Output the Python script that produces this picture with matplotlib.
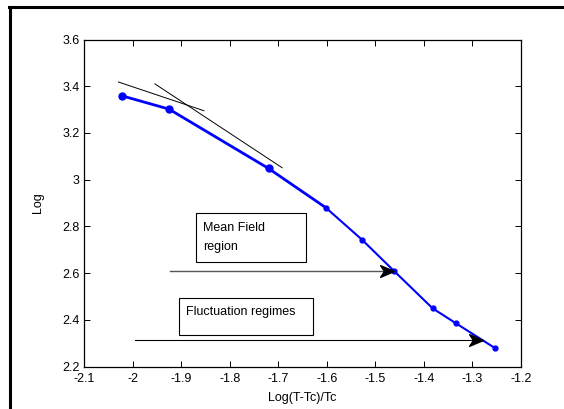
import matplotlib
matplotlib.use("Agg")
import matplotlib.pyplot as plt
from matplotlib.path import Path
from matplotlib.patches import Rectangle
from matplotlib.lines import Line2D
import numpy as np

plt.rcParams['font.family'] = ['Liberation Sans', 'DejaVu Sans']

# data
x_vals = [-2.022, -1.925, -1.720, -1.602, -1.527, -1.4615, -1.382, -1.334, -1.253]
y_vals = [3.359, 3.302, 3.048, 2.880, 2.742, 2.609, 2.449, 2.385, 2.278]
tan1_x = [-2.029, -1.853]
tan1_y = [3.418, 3.295]
tan2_x = [-1.954, -1.692]
tan2_y = [3.410, 3.051]
arrow1_x = [-1.923, -1.4615]
arrow1_y = [2.609, 2.609]
arrow2_x = [-1.994, -1.2775]
arrow2_y = [2.312, 2.312]
x_ticks = [-2.1, -2.0, -1.9, -1.8, -1.7, -1.6, -1.5, -1.4, -1.3, -1.2]
x_tick_labels = ['-2.1', '-2', '-1.9', '-1.8', '-1.7', '-1.6', '-1.5', '-1.4', '-1.3', '-1.2']
y_ticks = [2.2, 2.4, 2.6, 2.8, 3.0, 3.2, 3.4, 3.6]
y_tick_labels = ['2.2', '2.4', '2.6', '2.8', '3', '3.2', '3.4', '3.6']

W, H = 564, 409
fig = plt.figure(figsize=(W / 100, H / 100), dpi=100)

def fx(px):
    return px / W

def fy(py):
    return 1 - py / H

ax = fig.add_axes([fx(84), fy(366.5), (521 - 84) / W, (366.5 - 39.5) / H])
ax.set_xlim(-2.1, -1.2)
ax.set_ylim(2.2, 3.6)

# main curve: thick first part, thinner second part
ax.plot(x_vals[:4], y_vals[:4], color='#0000ff', lw=2.0, marker='o', ms=5,
        markevery=[0, 1, 2], zorder=3)
ax.plot(x_vals[3:], y_vals[3:], color='#0000ff', lw=1.5, marker='o', ms=3.5, zorder=3)

# tangent lines
ax.plot(tan1_x, tan1_y, color='black', lw=0.7)
ax.plot(tan2_x, tan2_y, color='black', lw=0.7)

# arrows (notched MATLAB-style heads)
head = Path([(0, 0), (-1, 0.42), (-0.72, 0), (-1, -0.42), (0, 0)],
            [Path.MOVETO, Path.LINETO, Path.LINETO, Path.LINETO, Path.CLOSEPOLY])
ax.plot(arrow1_x, arrow1_y, color='#555555', lw=1.0, zorder=4)
ax.plot([arrow1_x[1]], [arrow1_y[1]], marker=head, ms=20, color='black', mec='black', zorder=5)
ax.plot(arrow2_x, arrow2_y, color='black', lw=0.8, zorder=4)
ax.plot([arrow2_x[1]], [arrow2_y[1]], marker=head, ms=20, color='black', mec='black', zorder=5)

ax.set_xticks(x_ticks)
ax.set_xticklabels(x_tick_labels)
ax.set_yticks(y_ticks)
ax.set_yticklabels(y_tick_labels)
ax.tick_params(direction='in', length=4, width=0.7, top=True, right=True,
               labelsize=9)
ax.tick_params(axis='x', pad=5)
ax.tick_params(axis='y', pad=3)
for s in ax.spines.values():
    s.set_linewidth(0.9)
ax.set_xlabel('Log(T-Tc)/Tc', fontsize=9, labelpad=5)
ax.set_ylabel('Log', fontsize=9, labelpad=13)

# text boxes (figure pixel positions)
def box(x0, y0, x1, y1):
    fig.patches.append(Rectangle((fx(x0), fy(y1)), (x1 - x0) / W, (y1 - y0) / H,
                                 transform=fig.transFigure, fill=False,
                                 edgecolor='black', lw=0.8, zorder=6))

box(196, 213, 305.7, 262.3)
fig.text(fx(203), fy(228), 'Mean Field', fontsize=9, va='center', ha='left')
fig.text(fx(203), fy(247), 'region', fontsize=9, va='center', ha='left')
box(178.5, 297.7, 312.7, 335)
fig.text(fx(186), fy(312), 'Fluctuation regimes', fontsize=9, va='center', ha='left')

# figure frame (left and top)
fig.add_artist(Line2D([fx(9.5), fx(9.5)], [0, fy(7)], transform=fig.transFigure,
                      color='black', lw=2.2))
fig.add_artist(Line2D([fx(8.5), 1], [fy(7), fy(7)], transform=fig.transFigure,
                      color='black', lw=2.2))

fig.savefig('out.png', dpi=100)
